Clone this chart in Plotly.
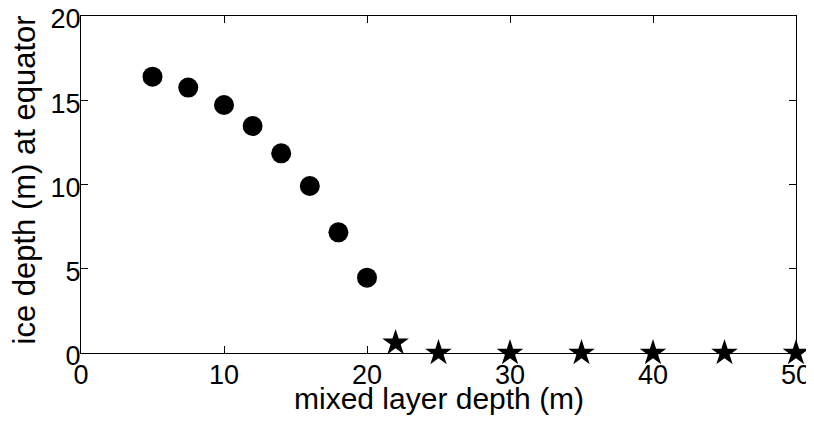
import plotly.graph_objects as go

mld_circ = [5, 7.5, 10, 12, 14, 16, 18, 20]
ice_circ = [16.4, 15.75, 14.72, 13.47, 11.85, 9.91, 7.16, 4.47]
mld_star = [22, 25, 30, 35, 40, 45, 50]
ice_star = [0.6, 0, 0, 0, 0, 0, 0]
xticks = [0, 10, 20, 30, 40, 50]
yticks = [0, 5, 10, 15, 20]

FONT = "Liberation Sans, Arial, Helvetica, sans-serif"

fig = go.Figure()
fig.add_trace(go.Scatter(x=mld_circ, y=ice_circ, mode="markers",
                         marker=dict(symbol="circle", size=20, color="black"),
                         showlegend=False, cliponaxis=False))
fig.add_trace(go.Scatter(x=mld_star, y=ice_star, mode="markers",
                         marker=dict(symbol="star", size=20, color="black",
                                     line=dict(width=0)),
                         showlegend=False, cliponaxis=False))

axis_common = dict(showgrid=False, zeroline=False, showline=True, linecolor="black",
                   linewidth=1.2, mirror="ticks", ticks="inside", ticklen=7,
                   tickcolor="black", tickwidth=1, automargin=False,
                   ticklabeloverflow="allow",
                   tickfont=dict(family=FONT, size=27, color="black"))

fig.update_xaxes(range=[0, 50], tickvals=xticks, ticktext=[str(v) for v in xticks],
                 ticklabelstandoff=-3, **axis_common)
fig.update_yaxes(range=[0, 20], tickvals=yticks, ticktext=[str(v) for v in yticks],
                 ticklabelstandoff=-6, ticklabelshift=3, **axis_common)

fig.add_annotation(text="mixed layer depth (m)", xref="paper", yref="paper",
                   x=0.5, y=0, xanchor="center", yanchor="middle", yshift=-45,
                   showarrow=False, font=dict(family=FONT, size=30, color="black"))
fig.add_annotation(text="ice depth (m) at equator", xref="paper", yref="paper",
                   x=0, y=0.5, xanchor="center", yanchor="middle", xshift=-57,
                   yshift=4, textangle=-90,
                   showarrow=False, font=dict(family=FONT, size=31, color="black"))

# page body has an 8px default margin; figure offset accordingly
fig.update_layout(width=806, height=415, plot_bgcolor="white", paper_bgcolor="white",
                  margin=dict(l=73, r=18, t=8, b=70), showlegend=False)

fig.write_html("out.html")
